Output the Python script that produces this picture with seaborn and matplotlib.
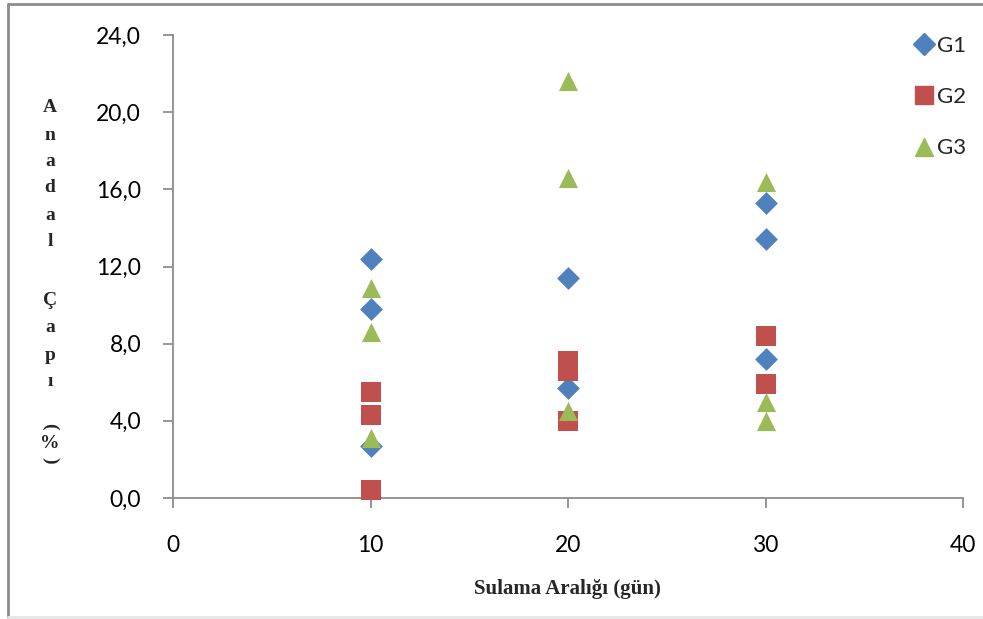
import matplotlib
matplotlib.use("Agg")
import matplotlib.pyplot as plt
import seaborn as sns
import pandas as pd
from matplotlib.ticker import FuncFormatter, MultipleLocator
from matplotlib.lines import Line2D

# ---- data ----
groups = ["G1", "G2", "G3"]
g1_x = [10, 10, 10, 20, 20, 30, 30, 30]
g1_y = [12.4, 9.8, 2.7, 11.4, 5.7, 15.3, 13.4, 7.2]
g2_x = [10, 10, 10, 20, 20, 20, 30, 30]
g2_y = [5.5, 4.3, 0.4, 7.1, 6.6, 4.0, 8.4, 5.9]
g3_x = [10, 10, 10, 20, 20, 20, 30, 30, 30]
g3_y = [10.9, 8.6, 3.1, 21.6, 16.6, 4.5, 16.4, 5.0, 4.0]
x_label = "Sulama Aralığı (gün)"
y_label = "Anadal Çapı (%)"

colors = {"G1": "#4F81BD", "G2": "#C0504D", "G3": "#9BBB59"}
markers = {"G1": "D", "G2": "s", "G3": "^"}

df = pd.concat([
    pd.DataFrame({"x": g1_x, "y": g1_y, "g": "G1"}),
    pd.DataFrame({"x": g2_x, "y": g2_y, "g": "G2"}),
    pd.DataFrame({"x": g3_x, "y": g3_y, "g": "G3"}),
], ignore_index=True)

sns.set_theme(style="white")
plt.rcParams["font.family"] = ["Lato", "DejaVu Sans"]

W, H = 983, 619
fig = plt.figure(figsize=(W / 100, H / 100), dpi=100)
ax = fig.add_axes([173 / W, 1 - 498 / H, 790 / W, 463 / H])

sizes = {"G1": 135, "G2": 190, "G3": 190}
for g in groups:
    sub = df[df.g == g]
    sns.scatterplot(data=sub, x="x", y="y", color=colors[g], marker=markers[g],
                    s=sizes[g], linewidth=0, ax=ax, legend=False, zorder=3, clip_on=False)

ax.set_xlim(0, 40)
ax.set_ylim(0, 24)
ax.xaxis.set_major_locator(MultipleLocator(10))
ax.yaxis.set_major_locator(MultipleLocator(4))
ax.yaxis.set_major_formatter(FuncFormatter(lambda v, p: f"{v:.1f}".replace(".", ",")))
ax.set_xlabel("")
ax.set_ylabel("")
for s in ["top", "right"]:
    ax.spines[s].set_visible(False)
for s in ["left", "bottom"]:
    ax.spines[s].set_color("#8c8c8c")
    ax.spines[s].set_linewidth(1.3)
ax.tick_params(axis="both", which="major", direction="out", length=7, width=1.3,
               color="#8c8c8c", labelsize=16.5, labelcolor="black")
ax.tick_params(axis="y", pad=16, left=True)
ax.tick_params(axis="x", pad=20, bottom=True)

# legend
handles = [Line2D([], [], linestyle="none", marker=markers[g], color=colors[g],
                  markersize=13 if g != "G1" else 11) for g in groups]
fig.legend(handles, groups, loc="upper left", bbox_to_anchor=(906 / W, 1 - 25 / H),
           frameon=False, fontsize=16, handlelength=0.6, handletextpad=0.3,
           labelspacing=1.4, borderpad=0)

# x label
fig.text(567 / W, 1 - 589 / H, x_label, ha="center", va="center",
         fontsize=15, fontweight="bold", family=["Liberation Serif"])

# stacked y label
chars = list(y_label)
ypos = [108, 135, 162, 188, 215, 241, None, 300, 328, 355, 382, None, 426, 443, 460]
for ch, yy in zip(chars, ypos):
    if ch == " " or yy is None:
        continue
    rot = -90 if ch in "()" else 0
    fig.text(50 / W, 1 - yy / H, ch, ha="center", va="center", rotation=rot,
             fontsize=14, fontweight="bold", family=["Liberation Serif"])

# outer border
fig.add_artist(Line2D([8 / W, 8 / W], [1 - 4 / H, 1 - 617 / H], color="#8c8c8c", lw=2,
                      transform=fig.transFigure))
fig.add_artist(Line2D([8 / W, 1], [1 - 4 / H, 1 - 4 / H], color="#8c8c8c", lw=2,
                      transform=fig.transFigure))
fig.add_artist(Line2D([8 / W, 1], [1 - 617 / H, 1 - 617 / H], color="#e6e6e6", lw=2,
                      transform=fig.transFigure))

fig.savefig("out.png", dpi=100)
